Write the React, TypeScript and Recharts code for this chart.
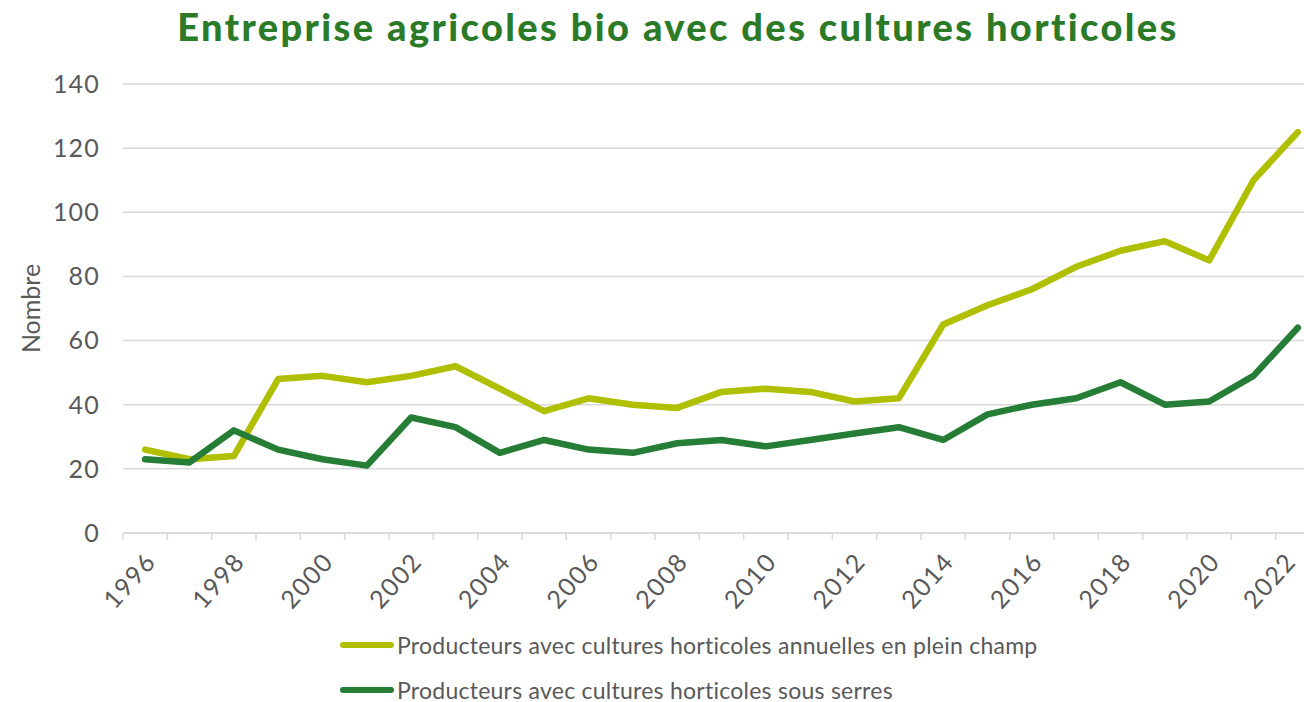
import { LineChart, Line, XAxis, YAxis, CartesianGrid, Legend } from 'recharts';

const years = [
  1996, 1997, 1998, 1999, 2000, 2001, 2002, 2003, 2004, 2005, 2006, 2007, 2008, 2009,
  2010, 2011, 2012, 2013, 2014, 2015, 2016, 2017, 2018, 2019, 2020, 2021, 2022,
];
const pleinChamp = [26, 23, 24, 48, 49, 47, 49, 52, 45, 38, 42, 40, 39, 44, 45, 44, 41, 42, 65, 71, 76, 83, 88, 91, 85, 110, 125];
const sousSerres = [23, 22, 32, 26, 23, 21, 36, 33, 25, 29, 26, 25, 28, 29, 27, 29, 31, 33, 29, 37, 40, 42, 47, 40, 41, 49, 64];
const yTicks = [0, 20, 40, 60, 80, 100, 120, 140];
const labelYears = years.filter((y) => y % 2 === 0);

const seriesNames = {
  plein: 'Producteurs avec cultures horticoles annuelles en plein champ',
  serres: 'Producteurs avec cultures horticoles sous serres',
};

const LIGHT = '#b0bf00';
const DARK = '#267d36';
const GREY = '#595959';
const GRID = '#d9d9d9';
const FONT = 'Lato, "Noto Sans", sans-serif';

const data = years.map((year, i) => ({ year, plein: pleinChamp[i], serres: sousSerres[i] }));

// tick lines sit between categories, labels on every other year
const xTicks = [years[0] - 0.5, ...years.map((y) => y + 0.5), ...labelYears].sort((a, b) => a - b);

const YearTick = (props: any) => {
  const { x, y, payload } = props;
  const v = payload.value;
  if (v % 1 !== 0) {
    return <line x1={x} x2={x} y1={y} y2={y + 7} stroke={GRID} strokeWidth={1.5} />;
  }
  // keep the last label inside the page edge
  const tx = Math.min(x + 5, 1290);
  const ty = y + 23;
  return (
    <text
      x={tx}
      y={ty}
      textAnchor="end"
      dominantBaseline="central"
      transform={`rotate(-48 ${tx} ${ty})`}
      fill={GREY}
      fontSize={25}
      letterSpacing={1.5}
      fontFamily={FONT}
    >
      {v}
    </text>
  );
};

const LegendBox = (props: any) => {
  const { payload } = props;
  return (
    <div style={{ fontFamily: FONT, fontSize: 23, letterSpacing: 0.25, color: GREY }}>
      {payload.map((entry: any) => (
        <div key={entry.value} style={{ display: 'flex', alignItems: 'center', height: 45 }}>
          <span
            style={{
              display: 'inline-block',
              width: 54,
              height: 6,
              borderRadius: 3,
              background: entry.color,
              marginRight: 3,
            }}
          />
          {entry.value}
        </div>
      ))}
    </div>
  );
};

const App = () => {
  return (
    <div style={{ position: 'fixed', top: 0, left: 0, width: 1304, height: 702, overflow: 'hidden', background: '#fff' }}>
      <div
        style={{
          position: 'absolute',
          top: 3,
          left: 0,
          width: 1356,
          textAlign: 'center',
          fontFamily: FONT,
          fontWeight: 900,
          fontSize: 38,
          letterSpacing: 2.4,
          color: '#2b7a27',
        }}
      >
        Entreprise agricoles bio avec des cultures horticoles
      </div>
      <LineChart width={1340} height={702} data={data} margin={{ top: 84, right: 20, bottom: 109, left: 23 }}>
        <CartesianGrid vertical={false} stroke={GRID} strokeWidth={1.5} />
        <XAxis
          dataKey="year"
          type="number"
          domain={[years[0] - 0.5, years[years.length - 1] + 0.5]}
          ticks={xTicks}
          interval={0}
          tick={<YearTick />}
          tickLine={false}
          tickSize={0}
          tickMargin={0}
          height={60}
          axisLine={{ stroke: GRID, strokeWidth: 1.5 }}
        />
        <YAxis
          domain={[0, 140]}
          ticks={yTicks}
          width={100}
          axisLine={false}
          tickLine={false}
          tickSize={0}
          tickMargin={23}
          tick={{ fill: GREY, fontSize: 25, fontFamily: FONT, letterSpacing: 1.2 }}
          label={{
            value: 'Nombre',
            angle: -90,
            position: 'insideLeft',
            offset: 8,
            style: { textAnchor: 'middle', fill: GREY, fontSize: 25, fontFamily: FONT },
          }}
        />
        <Legend
          layout="vertical"
          align="center"
          verticalAlign="middle"
          content={<LegendBox />}
          wrapperStyle={{ top: 622, left: 340, width: 800 }}
        />
        <Line
          type="linear"
          dataKey="plein"
          name={seriesNames.plein}
          stroke={LIGHT}
          strokeWidth={6.5}
          strokeLinecap="round"
          strokeLinejoin="round"
          dot={false}
          isAnimationActive={false}
        />
        <Line
          type="linear"
          dataKey="serres"
          name={seriesNames.serres}
          stroke={DARK}
          strokeWidth={6.5}
          strokeLinecap="round"
          strokeLinejoin="round"
          dot={false}
          isAnimationActive={false}
        />
      </LineChart>
    </div>
  );
};

export default App;
